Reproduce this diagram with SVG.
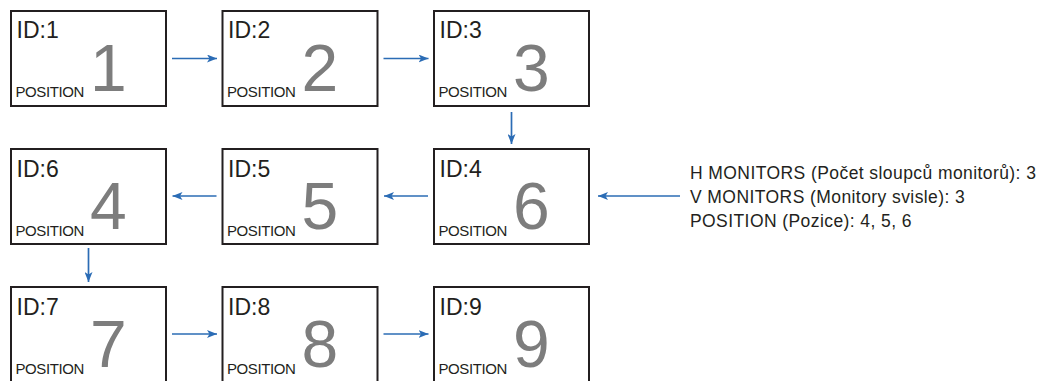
<svg xmlns="http://www.w3.org/2000/svg" width="1041" height="381" viewBox="0 0 1041 381">
<style>
.box{fill:#fff;stroke:#231f20;stroke-width:2}
.id{font-family:"Liberation Sans",Arial,sans-serif;font-size:23px;fill:#231f20}
.pos{font-family:"Liberation Sans",Arial,sans-serif;font-size:15px;letter-spacing:-0.4px;fill:#231f20}
.num{font-family:"Liberation Sans",Arial,sans-serif;font-size:66px;fill:#7d7d7d}
.info{font-family:"Liberation Sans",Arial,sans-serif;font-size:17.5px;letter-spacing:0.42px;fill:#231f20}
.conn{stroke:#2b6cb5;stroke-width:1.7;fill:none;marker-end:url(#ah)}
</style>
<defs>
<marker id="ah" viewBox="0 0 10 8" refX="10" refY="4" markerWidth="10" markerHeight="8" markerUnits="userSpaceOnUse" orient="auto">
<path d="M0,0 L10,4 L0,8 L2.5,4 Z" fill="#2b6cb5"/>
</marker>
</defs>
<g id="node-id1"><rect class="box" x="11" y="11" width="155" height="95"/><text class="id" x="16.5" y="38.3">ID:1</text><text class="pos" x="15.5" y="97.3">POSITION</text><text class="num" x="90" y="90.7">1</text></g>
<g id="node-id2"><rect class="box" x="222.5" y="11" width="155" height="95"/><text class="id" x="228" y="38.3">ID:2</text><text class="pos" x="227" y="97.3">POSITION</text><text class="num" x="301.5" y="90.7">2</text></g>
<g id="node-id3"><rect class="box" x="434" y="11" width="155" height="95"/><text class="id" x="439.5" y="38.3">ID:3</text><text class="pos" x="438.5" y="97.3">POSITION</text><text class="num" x="513" y="90.7">3</text></g>
<g id="node-id6"><rect class="box" x="11" y="149" width="155" height="95"/><text class="id" x="16.5" y="176.5">ID:6</text><text class="pos" x="15.5" y="235.5">POSITION</text><text class="num" x="90" y="229">4</text></g>
<g id="node-id5"><rect class="box" x="222.5" y="149" width="155" height="95"/><text class="id" x="228" y="176.5">ID:5</text><text class="pos" x="227" y="235.5">POSITION</text><text class="num" x="301.5" y="229">5</text></g>
<g id="node-id4"><rect class="box" x="434" y="149" width="155" height="95"/><text class="id" x="439.5" y="176.5">ID:4</text><text class="pos" x="438.5" y="235.5">POSITION</text><text class="num" x="513" y="229">6</text></g>
<g id="node-id7"><rect class="box" x="11" y="287" width="155" height="95"/><text class="id" x="16.5" y="314.5">ID:7</text><text class="pos" x="15.5" y="373.5">POSITION</text><text class="num" x="90" y="367">7</text></g>
<g id="node-id8"><rect class="box" x="222.5" y="287" width="155" height="95"/><text class="id" x="228" y="314.5">ID:8</text><text class="pos" x="227" y="373.5">POSITION</text><text class="num" x="301.5" y="367">8</text></g>
<g id="node-id9"><rect class="box" x="434" y="287" width="155" height="95"/><text class="id" x="439.5" y="314.5">ID:9</text><text class="pos" x="438.5" y="373.5">POSITION</text><text class="num" x="513" y="367">9</text></g>
<g id="info"><text class="info" x="690" y="179.3">H MONITORS (Počet sloupců monitorů): 3</text><text class="info" x="690" y="203">V MONITORS (Monitory svisle): 3</text><text class="info" x="690" y="226.5">POSITION (Pozice): 4, 5, 6</text></g>
<g id="connectors">
<line class="conn" x1="172" y1="58.5" x2="217" y2="58.5"/>
<line class="conn" x1="383.5" y1="58.5" x2="428.5" y2="58.5"/>
<line class="conn" x1="511.5" y1="112" x2="511.5" y2="144"/>
<line class="conn" x1="428" y1="196" x2="384" y2="196"/>
<line class="conn" x1="216.5" y1="196" x2="172.5" y2="196"/>
<line class="conn" x1="88.5" y1="248" x2="88.5" y2="282"/>
<line class="conn" x1="172" y1="334" x2="217" y2="334"/>
<line class="conn" x1="383.5" y1="334" x2="428.5" y2="334"/>
<line class="conn" x1="680" y1="196" x2="598" y2="196"/>
</g>
</svg>
